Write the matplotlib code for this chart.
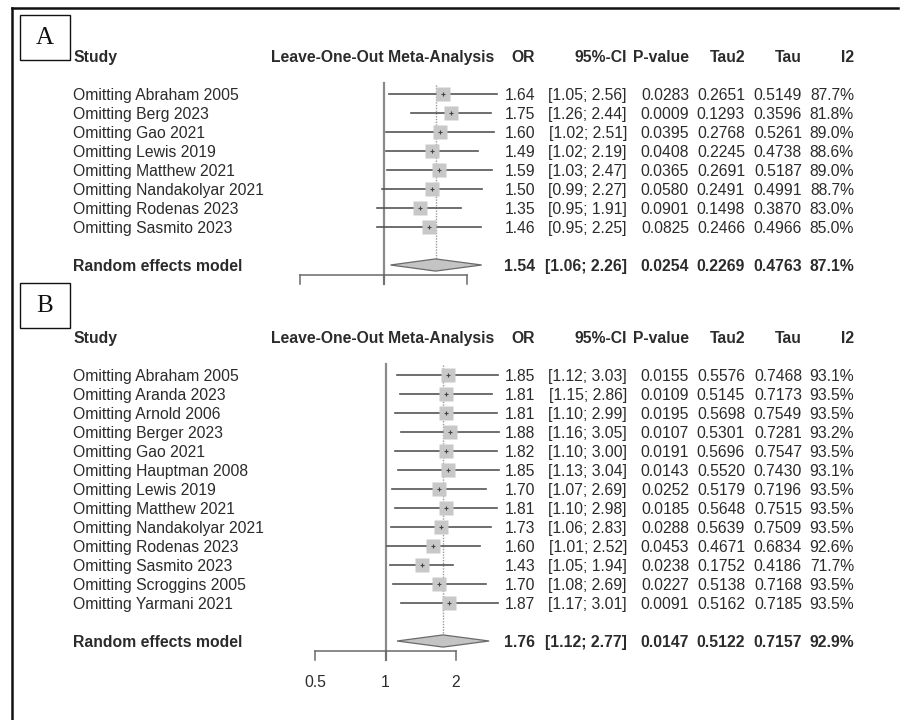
import matplotlib
matplotlib.use("Agg")
import matplotlib.pyplot as plt
import matplotlib.transforms as mtransforms
from matplotlib.patches import Polygon, Rectangle
import numpy as np

plt.rcParams['font.family'] = ['Liberation Sans', 'DejaVu Sans']

W, H = 901, 720

# panel A data
studies_a = ["Abraham 2005", "Berg 2023", "Gao 2021", "Lewis 2019", "Matthew 2021",
             "Nandakolyar 2021", "Rodenas 2023", "Sasmito 2023"]
or_a = [1.64, 1.75, 1.60, 1.49, 1.59, 1.50, 1.35, 1.46]
lo_a = [1.05, 1.26, 1.02, 1.02, 1.03, 0.99, 0.95, 0.95]
hi_a = [2.56, 2.44, 2.51, 2.19, 2.47, 2.27, 1.91, 2.25]
p_a = [0.0283, 0.0009, 0.0395, 0.0408, 0.0365, 0.0580, 0.0901, 0.0825]
tau2_a = [0.2651, 0.1293, 0.2768, 0.2245, 0.2691, 0.2491, 0.1498, 0.2466]
tau_a = [0.5149, 0.3596, 0.5261, 0.4738, 0.5187, 0.4991, 0.3870, 0.4966]
i2_a = [87.7, 81.8, 89.0, 88.6, 89.0, 88.7, 83.0, 85.0]
pooled_a = [1.54, 1.06, 2.26, 0.0254, 0.2269, 0.4763, 87.1]

# panel B data
studies_b = ["Abraham 2005", "Aranda 2023", "Arnold 2006", "Berger 2023", "Gao 2021",
             "Hauptman 2008", "Lewis 2019", "Matthew 2021", "Nandakolyar 2021",
             "Rodenas 2023", "Sasmito 2023", "Scroggins 2005", "Yarmani 2021"]
or_b = [1.85, 1.81, 1.81, 1.88, 1.82, 1.85, 1.70, 1.81, 1.73, 1.60, 1.43, 1.70, 1.87]
lo_b = [1.12, 1.15, 1.10, 1.16, 1.10, 1.13, 1.07, 1.10, 1.06, 1.01, 1.05, 1.08, 1.17]
hi_b = [3.03, 2.86, 2.99, 3.05, 3.00, 3.04, 2.69, 2.98, 2.83, 2.52, 1.94, 2.69, 3.01]
p_b = [0.0155, 0.0109, 0.0195, 0.0107, 0.0191, 0.0143, 0.0252, 0.0185, 0.0288,
       0.0453, 0.0238, 0.0227, 0.0091]
tau2_b = [0.5576, 0.5145, 0.5698, 0.5301, 0.5696, 0.5520, 0.5179, 0.5648, 0.5639,
          0.4671, 0.1752, 0.5138, 0.5162]
tau_b = [0.7468, 0.7173, 0.7549, 0.7281, 0.7547, 0.7430, 0.7196, 0.7515, 0.7509,
         0.6834, 0.4186, 0.7168, 0.7185]
i2_b = [93.1, 93.5, 93.5, 93.2, 93.5, 93.1, 93.5, 93.5, 93.5, 92.6, 71.7, 93.5, 93.5]
pooled_b = [1.76, 1.12, 2.77, 0.0147, 0.5122, 0.7157, 92.9]

ticks = [0.5, 1, 2]
headers = ["OR", "95%-CI", "P-value", "Tau2", "Tau", "I2"]

TXT = '#2b2b2b'
FS = 11.3
VA = 'center_baseline'

fig = plt.figure(figsize=(W / 100, H / 100), dpi=100)


def fx(px):
    return px / W


def forest(x0, x1, row0, n, studies, ors, los, his, ps, t2s, ts, i2s, pooled,
           show_ticklabels):
    # axes spans rows -3 .. n+4, 19 px per row
    step = 19
    top = row0 - 3 * step
    bot = row0 + (n + 4) * step
    ax = fig.add_axes([fx(x0), 1 - bot / H, fx(x1 - x0), (bot - top) / H])
    ax.set_xscale('log')
    ax.set_xlim(0.5, 2)
    ax.set_ylim(n + 4, -3)
    ax.axis('off')
    ax.patch.set_alpha(0)
    tr = mtransforms.blended_transform_factory(fig.transFigure, ax.transData)

    ys = np.arange(n)
    y_re = n + 1
    y_ax = n + 1.5

    # reference line at 1 and dotted pooled line
    ax.plot([1, 1], [-0.6, y_ax + 0.5], color='#8a8a8a', lw=1.6, clip_on=False)
    ax.plot([pooled[0], pooled[0]], [-0.5, y_re - 0.3], color='#9a9a9a', lw=1,
            ls=(0, (1, 1)), clip_on=False)

    # CI lines and squares
    for y, o, l, h in zip(ys, ors, los, his):
        ax.plot([l, h], [y, y], color='#555555', lw=1.2, clip_on=False, zorder=2)
        ax.plot(o, y, marker='s', ms=10, color='#c8c8c8', mec='none',
                clip_on=False, zorder=3)
        ax.plot(o, y, marker='+', ms=3.5, color='#444444', mew=0.8,
                clip_on=False, zorder=4)

    # diamond
    dia = Polygon([[pooled[1], y_re], [pooled[0], y_re - 0.32],
                   [pooled[2], y_re], [pooled[0], y_re + 0.32]],
                  closed=True, facecolor='#c4c4c4', edgecolor='#6a6a6a', lw=0.9,
                  clip_on=False, zorder=3)
    ax.add_patch(dia)

    # x axis
    ax.plot([ticks[0], ticks[-1]], [y_ax, y_ax], color='#6a6a6a', lw=1.1,
            clip_on=False)
    for t in ticks:
        ax.plot([t, t], [y_ax, y_ax + 0.5], color='#6a6a6a', lw=1.1,
                clip_on=False)
        if show_ticklabels:
            ax.text(t, y_ax + 1.6, f"{t:g}", ha='center', va=VA,
                    fontsize=FS, color=TXT)

    # headers
    ax.text(fx(73), -2, "Study", transform=tr, ha='left', va=VA,
            fontsize=FS, fontweight='bold', color=TXT)
    ax.text(fx(383), -2, "Leave-One-Out Meta-Analysis", transform=tr,
            ha='center', va=VA, fontsize=FS, fontweight='bold', color=TXT)
    cols = [535, 627, 689, 745, 802, 854]
    for c, h in zip(cols, headers):
        ax.text(fx(c), -2, h, transform=tr, ha='right', va=VA,
                fontsize=FS, fontweight='bold', color=TXT)

    # rows
    for y, s, o, l, h, p, t2, t, i2 in zip(ys, studies, ors, los, his, ps, t2s,
                                           ts, i2s):
        vals = [f"{o:.2f}", f"[{l:.2f}; {h:.2f}]", f"{p:.4f}", f"{t2:.4f}",
                f"{t:.4f}", f"{i2:.1f}%"]
        ax.text(fx(73), y, "Omitting " + s, transform=tr, ha='left',
                va=VA, fontsize=FS, color=TXT)
        for c, v in zip(cols, vals):
            ax.text(fx(c), y, v, transform=tr, ha='right', va=VA,
                    fontsize=FS, color=TXT)

    o, l, h, p, t2, t, i2 = pooled
    vals = [f"{o:.2f}", f"[{l:.2f}; {h:.2f}]", f"{p:.4f}", f"{t2:.4f}",
            f"{t:.4f}", f"{i2:.1f}%"]
    ax.text(fx(73), y_re, "Random effects model", transform=tr, ha='left',
            va=VA, fontsize=FS, fontweight='bold', color=TXT)
    for c, v in zip(cols, vals):
        ax.text(fx(c), y_re, v, transform=tr, ha='right', va=VA,
                fontsize=FS, fontweight='bold', color=TXT)
    return ax


forest(300, 467, 94, len(studies_a), studies_a, or_a, lo_a, hi_a, p_a, tau2_a,
       tau_a, i2_a, pooled_a, False)
forest(315, 456, 375, len(studies_b), studies_b, or_b, lo_b, hi_b, p_b, tau2_b,
       tau_b, i2_b, pooled_b, True)

# outer frame and panel letters
frame = fig.add_axes([0, 0, 1, 1])
frame.set_xlim(0, W)
frame.set_ylim(H, 0)
frame.axis('off')
frame.patch.set_alpha(0)
frame.plot([12, 898], [8, 8], color='#111111', lw=1.8)
frame.plot([12, 12], [8, H], color='#111111', lw=1.8)
for letter, ytop in [("A", 15), ("B", 283)]:
    frame.add_patch(Rectangle((20, ytop), 50, 45, facecolor='white',
                              edgecolor='#111111', lw=1))
    frame.text(45, ytop + 22.5, letter, ha='center', va='center',
               fontsize=18, family='Liberation Serif', color='#111111')

fig.savefig("out.png", dpi=100)
